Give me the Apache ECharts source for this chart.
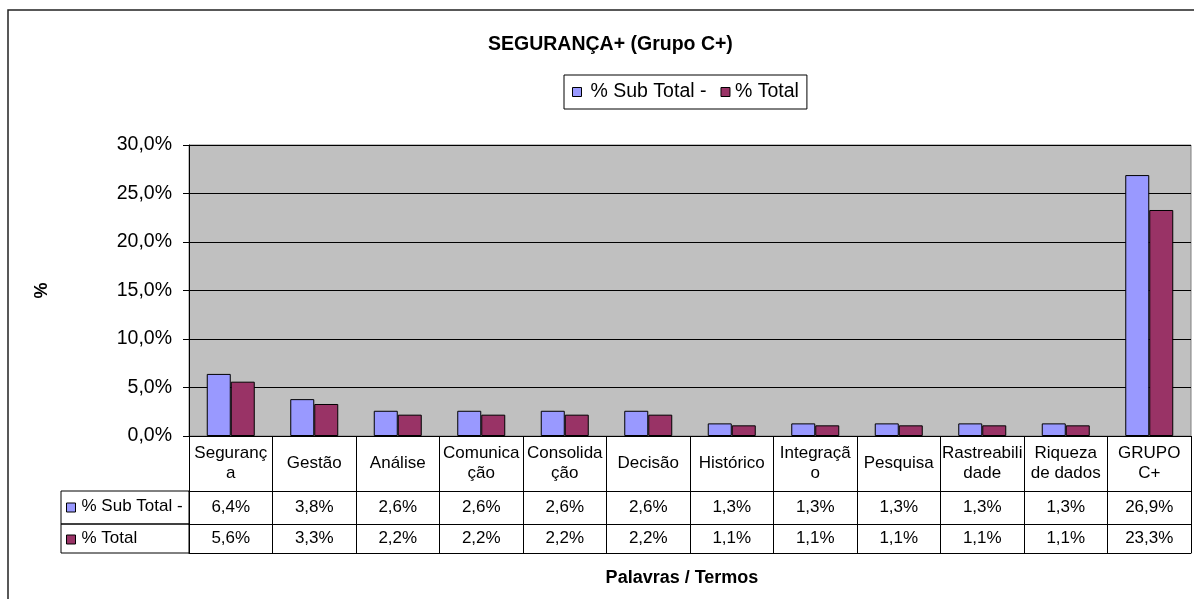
<!DOCTYPE html>
<html>
<head>
<meta charset="utf-8">
<script src="https://cdn.jsdelivr.net/npm/echarts@6/dist/echarts.min.js"></script>
<style>
  html, body { margin: 0; padding: 0; background: #fff; }
  #chart { width: 1194px; height: 599px; }
</style>
</head>
<body>
<div id="chart"></div>
<script>
const categorias = ['Seguranç\na', 'Gestão', 'Análise', 'Comunica\nção', 'Consolida\nção', 'Decisão',
  'Histórico', 'Integraçã\no', 'Pesquisa', 'Rastreabili\ndade', 'Riqueza\nde dados', 'GRUPO\nC+']
const subTotal = [6.4, 3.8, 2.6, 2.6, 2.6, 2.6, 1.3, 1.3, 1.3, 1.3, 1.3, 26.9]
const total = [5.6, 3.3, 2.2, 2.2, 2.2, 2.2, 1.1, 1.1, 1.1, 1.1, 1.1, 23.3]
const nomesSeries = ['% Sub Total -', '% Total']
const cores = ['#9999FF', '#993366']

const fonte = 'Liberation Sans, Arial, sans-serif'
const pct = v => v.toFixed(1).replace('.', ',') + '%'

const chart = echarts.init(document.getElementById('chart'))

// eixo auxiliar usado só para desenhar linhas/valores da tabela
const eixoTabela = (offset, tick, margin, valores) => ({
  type: 'category',
  gridIndex: 0,
  position: 'bottom',
  offset: offset,
  data: categorias,
  axisLine: { show: true, lineStyle: { color: '#000', width: 1 } },
  axisTick: { show: tick > 0, interval: 0, length: tick, lineStyle: { color: '#000' } },
  axisLabel: {
    show: !!valores,
    interval: 0,
    margin: margin,
    verticalAlign: 'middle',
    fontFamily: fonte,
    fontSize: 17,
    color: '#000',
    formatter: (v, i) => valores ? pct(valores[i]) : ''
  },
  splitLine: { show: false }
})

const option = {
  animation: false,
  textStyle: { fontFamily: fonte },
  title: {
    text: 'SEGURANÇA+ (Grupo C+)',
    left: 483,
    top: 30,
    textStyle: { fontFamily: fonte, fontSize: 19.5, fontWeight: 'bold', color: '#000' }
  },
  legend: {
    left: 564,
    top: 75,
    padding: [7, 8, 7, 8],
    borderColor: '#000',
    borderWidth: 1,
    itemWidth: 9,
    itemHeight: 9,
    itemGap: 14,
    icon: 'rect',
    itemStyle: { borderColor: '#000', borderWidth: 1 },
    textStyle: { fontFamily: fonte, fontSize: 19.5, color: '#000' },
    data: [
      { name: nomesSeries[0], textStyle: { padding: [0, 0, 0, 4] } },
      { name: nomesSeries[1] }
    ]
  },
  grid: {
    left: 189,
    right: 3,
    top: 145,
    bottom: 163,
    show: true,
    backgroundColor: '#C0C0C0',
    borderColor: '#808080',
    borderWidth: 1
  },
  xAxis: [
    {
      type: 'category',
      data: categorias,
      axisLine: { show: true, lineStyle: { color: '#000', width: 1 } },
      axisTick: { show: true, interval: 0, length: 55, lineStyle: { color: '#000' } },
      axisLabel: {
        interval: 0,
        margin: 27,
        verticalAlign: 'middle',
        lineHeight: 20,
        fontFamily: fonte,
        fontSize: 17,
        color: '#000'
      }
    },
    eixoTabela(55, 33, 16.5, subTotal),
    eixoTabela(88, 29, 14.5, total),
    Object.assign(eixoTabela(117, 0, 0, null), {
      name: 'Palavras / Termos',
      nameLocation: 'middle',
      nameGap: 16,
      nameTextStyle: { fontFamily: fonte, fontSize: 18, fontWeight: 'bold', color: '#000', padding: [0, 16, 0, 0] }
    })
  ],
  yAxis: {
    type: 'value',
    min: 0,
    max: 30,
    interval: 5,
    name: '%',
    nameLocation: 'middle',
    nameGap: 138,
    nameRotate: 90,
    nameTextStyle: { fontFamily: fonte, fontSize: 18, fontWeight: 'bold', color: '#000' },
    axisLine: { show: true, lineStyle: { color: '#000' } },
    axisTick: { show: true, length: 6, lineStyle: { color: '#000' } },
    axisLabel: { margin: 17, fontFamily: fonte, fontSize: 19.5, color: '#000', formatter: pct },
    splitLine: { show: true, lineStyle: { color: '#000', width: 1 } }
  },
  series: [
    {
      name: nomesSeries[0],
      type: 'bar',
      data: subTotal,
      barWidth: 24,
      barGap: '0%',
      itemStyle: { color: cores[0], borderColor: '#000', borderWidth: 1 }
    },
    {
      name: nomesSeries[1],
      type: 'bar',
      data: total,
      barWidth: 24,
      barGap: '0%',
      itemStyle: { color: cores[1], borderColor: '#000', borderWidth: 1 }
    }
  ],
  graphic: [
    // moldura externa do gráfico
    { type: 'rect', shape: { x: 8, y: 10, width: 1300, height: 700 }, style: { fill: null, stroke: '#222', lineWidth: 1.5 }, silent: true },
    // coluna de rótulos da tabela
    { type: 'rect', shape: { x: 61, y: 491, width: 128, height: 33 }, style: { fill: null, stroke: '#000', lineWidth: 1 } },
    { type: 'rect', shape: { x: 61, y: 524, width: 128, height: 29 }, style: { fill: null, stroke: '#000', lineWidth: 1 } },
    ...nomesSeries.map((nome, i) => ({
      type: 'group',
      left: 66,
      top: i === 0 ? 498 : 530,
      children: [
        { type: 'rect', shape: { x: 0, y: 5, width: 9, height: 9 }, style: { fill: cores[i], stroke: '#000', lineWidth: 1 } },
        { type: 'text', x: 15, y: 0, style: { text: nome, font: '17px ' + fonte, fill: '#000' } }
      ]
    }))
  ]
}

chart.setOption(option)
</script>
</body>
</html>
